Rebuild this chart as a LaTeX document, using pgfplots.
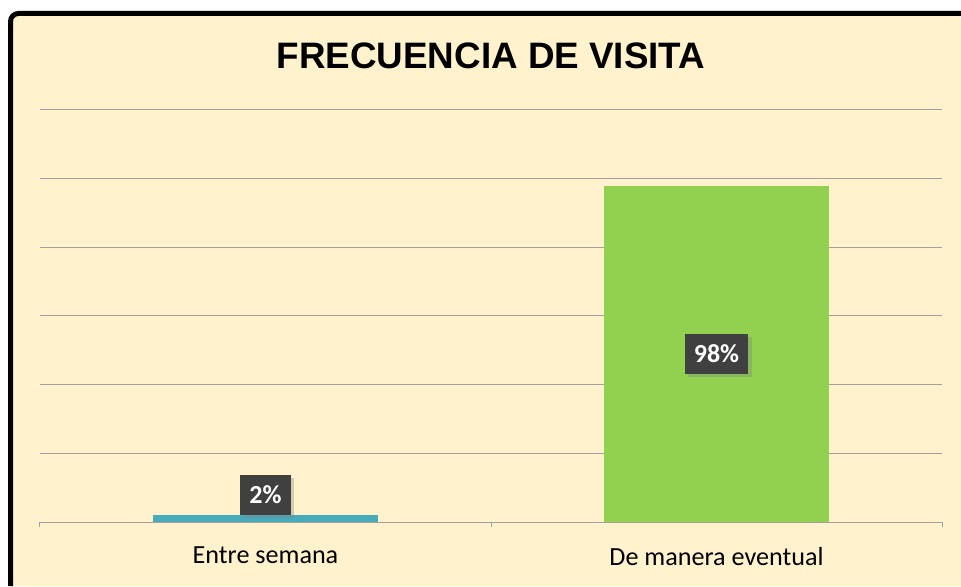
\documentclass[border=0pt]{standalone}
\usepackage{pgfplots}
\pgfplotsset{compat=1.18}
\usepackage{fontspec}
\setmainfont{Carlito}
\newfontfamily\arialfont{Liberation Sans}
\usetikzlibrary{shadows}
\definecolor{bgyellow}{RGB}{255,242,204}
\definecolor{barteal}{RGB}{70,172,186}
\definecolor{bargreen}{RGB}{146,208,80}
\definecolor{gridgray}{RGB}{160,160,160}
\definecolor{lblbox}{RGB}{64,64,64}
\begin{document}
\begin{tikzpicture}[x=0.75pt,y=0.75pt]
\useasboundingbox (0,0) rectangle (961,586);
\fill[white] (0,0) rectangle (961,586);
\fill[bgyellow] (10.5,0) [rounded corners=6] -- (10.5,572.5) -- (961,572.5) [sharp corners] -- (961,0) -- cycle;
\draw[line width=3.75pt, rounded corners=6] (10.5,0) -- (10.5,572.5) -- (961,572.5);
\node[font=\arialfont\bfseries\fontsize{27.6}{33}\selectfont] at (491,530) {FRECUENCIA DE VISITA};
\begin{axis}[
  at={(30pt,48pt)}, anchor=south west,
  scale only axis, width=676.5pt, height=309pt,
  ymin=0, ymax=120, xmin=-0.5, xmax=1.5,
  /pgf/number format/assume math mode=true,
  ytick={0,20,...,120}, yticklabels={}, ymajorgrids,
  grid style={gridgray, line width=0.75pt},
  ytick style={draw=none},
  axis lines*=left,
  y axis line style={draw=none},
  x axis line style={gridgray, line width=0.75pt, -},
  xtick={0,1}, xticklabels={Entre semana, De manera eventual},
  major x tick style={draw=none},
  minor xtick={-0.5,0.5,1.5},
  minor x tick style={gridgray, line width=0.75pt},
  minor tick length=3.75pt, tick align=outside,
  xticklabel style={font=\fontsize{19.6}{23}\selectfont, yshift=-11pt},
  ybar, bar width=0.5, bar shift=0,
  point meta=y,
  nodes near coords={\pgfmathprintnumber{\pgfplotspointmeta}\%},
  every node near coord/.append style={fill=lblbox, text=white,
    font=\bfseries\fontsize{19.5}{23}\selectfont, inner xsep=7pt,
    minimum height=30pt, inner ysep=0pt,
    drop shadow={opacity=0.35, shadow xshift=2.5pt, shadow yshift=-2.5pt}},
]
\addplot[fill=barteal, draw=none] coordinates {(0,2)};
\addplot[fill=bargreen, draw=none,
  visualization depends on={y \as \rawy},
  every node near coord/.append style={anchor=center, shift={(axis direction cs:0,-\rawy/2)}}]
  coordinates {(1,98)};
\end{axis}
\end{tikzpicture}
\end{document}
